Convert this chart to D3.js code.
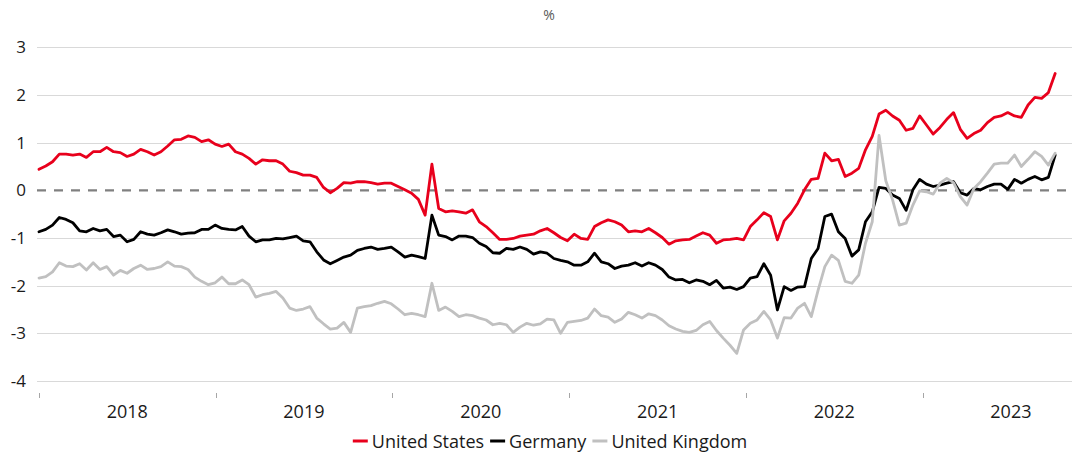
<!DOCTYPE html>
<html><head><meta charset="utf-8">
<script src="https://cdn.jsdelivr.net/npm/d3@7"></script>
<style>body{margin:0;background:#fff} svg{display:block} text{font-family:"Open Sans",sans-serif}</style>
</head><body><svg id="c" width="1072" height="452"></svg>
<script>
const seriesNames = ["United States", "Germany", "United Kingdom"];
const seriesColors = ["#E8001C", "#000000", "#C0C0C0"];
const yTicks = [3, 2, 1, 0, -1, -2, -3, -4];
const yearLabels = ["2018", "2019", "2020", "2021", "2022", "2023"];
// fortnightly observation dates, Jan 2018 – Oct 2023
const dates = d3.timeDay.range(new Date(2018, 0, 1), new Date(2023, 9, 3), 14);

const us = [0.44,0.51,0.60,0.76,0.76,0.74,0.76,0.69,0.81,0.81,0.90,0.81,0.79,0.71,0.76,0.86,0.81,0.74,0.81,0.93,
1.06,1.07,1.14,1.11,1.02,1.06,0.97,0.92,0.97,0.81,0.76,0.67,0.55,0.64,0.62,0.62,0.55,0.40,0.37,0.32,
0.32,0.27,0.06,-0.05,0.04,0.16,0.15,0.18,0.18,0.16,0.13,0.15,0.15,0.08,0.01,-0.06,-0.19,-0.52,0.55,-0.38,
-0.45,-0.43,-0.45,-0.48,-0.41,-0.66,-0.76,-0.89,-1.03,-1.03,-1.01,-0.96,-0.94,-0.92,-0.85,-0.80,-0.89,-0.99,-1.06,-0.92,
-1.01,-1.03,-0.76,-0.68,-0.62,-0.66,-0.73,-0.87,-0.85,-0.87,-0.80,-0.89,-0.99,-1.13,-1.06,-1.04,-1.03,-0.96,-0.89,-0.94,
-1.11,-1.04,-1.03,-1.01,-1.04,-0.76,-0.62,-0.47,-0.55,-1.04,-0.64,-0.48,-0.27,0.01,0.23,0.25,0.78,0.62,0.65,0.29,
0.36,0.46,0.85,1.13,1.60,1.68,1.56,1.47,1.26,1.30,1.56,1.37,1.18,1.32,1.49,1.63,1.28,1.09,1.19,1.26,
1.42,1.53,1.56,1.63,1.56,1.53,1.79,1.95,1.93,2.05,2.45];

const de = [-0.87,-0.82,-0.73,-0.57,-0.61,-0.68,-0.85,-0.87,-0.80,-0.85,-0.82,-0.97,-0.94,-1.08,-1.03,-0.87,-0.92,-0.94,-0.89,-0.83,
-0.87,-0.92,-0.90,-0.89,-0.82,-0.82,-0.73,-0.80,-0.82,-0.83,-0.76,-0.96,-1.08,-1.04,-1.04,-1.01,-1.02,-0.99,-0.96,-1.06,
-1.08,-1.29,-1.46,-1.54,-1.47,-1.40,-1.36,-1.26,-1.22,-1.19,-1.24,-1.22,-1.19,-1.29,-1.40,-1.36,-1.39,-1.43,-0.52,-0.94,
-0.97,-1.04,-0.96,-0.96,-0.99,-1.11,-1.18,-1.31,-1.32,-1.22,-1.24,-1.19,-1.24,-1.34,-1.29,-1.32,-1.43,-1.47,-1.50,-1.57,
-1.57,-1.50,-1.32,-1.50,-1.54,-1.64,-1.59,-1.57,-1.52,-1.59,-1.52,-1.57,-1.66,-1.82,-1.88,-1.87,-1.94,-1.88,-1.91,-1.98,
-1.89,-2.05,-2.03,-2.08,-2.02,-1.84,-1.81,-1.54,-1.78,-2.51,-2.02,-2.10,-2.03,-2.02,-1.43,-1.22,-0.55,-0.50,-0.87,-1.01,
-1.38,-1.25,-0.66,-0.45,0.06,0.04,-0.10,-0.17,-0.42,0.01,0.23,0.13,0.08,0.11,0.15,0.18,-0.05,-0.10,0.04,0.01,
0.08,0.13,0.13,0.02,0.23,0.15,0.23,0.29,0.22,0.27,0.74];

const uk = [-1.84,-1.81,-1.71,-1.52,-1.59,-1.60,-1.54,-1.67,-1.52,-1.66,-1.60,-1.78,-1.68,-1.74,-1.64,-1.57,-1.66,-1.64,-1.60,-1.50,
-1.59,-1.60,-1.66,-1.82,-1.91,-1.98,-1.94,-1.82,-1.96,-1.96,-1.88,-1.98,-2.24,-2.19,-2.16,-2.12,-2.26,-2.47,-2.52,-2.49,
-2.44,-2.68,-2.80,-2.91,-2.89,-2.77,-2.98,-2.47,-2.44,-2.42,-2.37,-2.33,-2.38,-2.49,-2.61,-2.58,-2.61,-2.65,-1.95,-2.52,
-2.45,-2.54,-2.65,-2.61,-2.63,-2.68,-2.72,-2.82,-2.79,-2.82,-2.98,-2.87,-2.79,-2.83,-2.80,-2.70,-2.72,-3.00,-2.77,-2.75,
-2.73,-2.68,-2.49,-2.63,-2.66,-2.77,-2.70,-2.56,-2.61,-2.68,-2.59,-2.63,-2.72,-2.84,-2.91,-2.96,-2.98,-2.94,-2.82,-2.75,
-2.94,-3.10,-3.25,-3.42,-2.93,-2.79,-2.72,-2.54,-2.72,-3.10,-2.67,-2.68,-2.47,-2.37,-2.65,-2.10,-1.60,-1.36,-1.47,-1.91,
-1.95,-1.78,-1.11,-0.66,1.15,0.20,-0.20,-0.73,-0.69,-0.31,-0.01,-0.03,-0.08,0.15,0.25,0.16,-0.13,-0.31,0.04,0.18,
0.36,0.55,0.57,0.57,0.74,0.50,0.65,0.81,0.71,0.53,0.78];

const seriesValues = [us, de, uk];

const svg = d3.select("#c");
const x = d3.scaleTime().domain([new Date(2018, 0, 1), new Date(2024, 0, 1)]).range([39, 1099.2]);
const y = d3.scaleLinear().domain([-4, 3]).range([381, 47.3]);

// title
svg.append("text").attr("x", 549).attr("y", 20).attr("text-anchor", "middle")
  .attr("font-size", 14).attr("fill", "#595959").text("%");

// gridlines
svg.append("g").selectAll("line").data(yTicks.filter(d => d !== 0)).join("line")
  .attr("x1", 37).attr("x2", 1072)
  .attr("y1", d => Math.round(y(d)) + 0.5).attr("y2", d => Math.round(y(d)) + 0.5)
  .attr("stroke", "#D9D9D9").attr("stroke-width", 1.2);

// zero line dashed
svg.append("line").attr("x1", 37).attr("x2", 1072)
  .attr("y1", y(0)).attr("y2", y(0))
  .attr("stroke", "#808080").attr("stroke-width", 2.2).attr("stroke-dasharray", "9,8");

// y labels
svg.append("g").selectAll("text").data(yTicks).join("text")
  .attr("x", 26).attr("y", d => y(d) + 6).attr("text-anchor", "end")
  .attr("font-size", 17).attr("fill", "#1a1a1a").text(d => d);

// x ticks at year boundaries
const yearStarts = yearLabels.map(s => new Date(+s, 0, 1));
svg.append("g").selectAll("line").data(yearStarts).join("line")
  .attr("x1", d => Math.round(x(d)) + 0.5).attr("x2", d => Math.round(x(d)) + 0.5)
  .attr("y1", 393).attr("y2", 398).attr("stroke", "#A6A6A6").attr("stroke-width", 1);

// year labels
svg.append("g").selectAll("text").data(yearLabels).join("text")
  .attr("x", s => (x(new Date(+s, 0, 1)) + x(new Date(+s + 1, 0, 1))) / 2)
  .attr("y", 418).attr("text-anchor", "middle")
  .attr("font-size", 18).attr("fill", "#1a1a1a").text(s => s);

// series lines
const line = d3.line().x((d, i) => x(dates[i])).y(d => y(d)).curve(d3.curveLinear);
seriesValues.forEach((vals, k) => {
  svg.append("path").datum(vals).attr("d", line)
    .attr("fill", "none").attr("stroke", seriesColors[k]).attr("stroke-width", 2.8)
    .attr("stroke-linejoin", "round").attr("stroke-linecap", "round");
});

// legend
const lg = svg.append("g");
let cx = 0;
seriesNames.forEach((name, k) => {
  const g = lg.append("g");
  g.append("line").attr("x1", cx).attr("x2", cx + 15).attr("y1", 441).attr("y2", 441)
    .attr("stroke", seriesColors[k]).attr("stroke-width", 3);
  const t = g.append("text").attr("x", cx + 19).attr("y", 448).attr("font-size", 18)
    .attr("fill", "#1a1a1a").text(name);
  cx += 19 + t.node().getComputedTextLength() + 6;
});
const total = cx - 6;
lg.attr("transform", `translate(${550 - total / 2},0)`);
</script>
</body></html>
